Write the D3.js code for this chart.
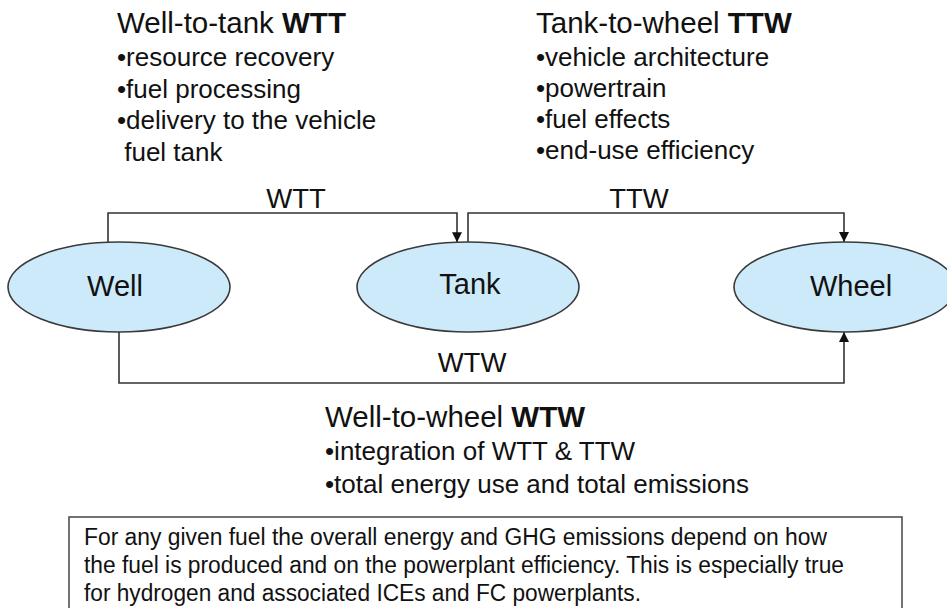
<!DOCTYPE html>
<html lang="en">
<head>
    <meta charset="utf-8">
    <title>Well-to-wheel diagram</title>
    <style>
        body { margin: 0; background: #fff; }
        svg { display: block; font-family: "Liberation Sans", Arial, sans-serif; }
        .narrow { font-family: "Liberation Sans Narrow", "Arial Narrow", "Liberation Sans", sans-serif; }
    </style>
    <script src="https://d3js.org/d3.v7.min.js"></script>
</head>
<body>
<svg></svg>
<script>
    // data
    const nodes = ["Well", "Tank", "Wheel"];
    const links = [
        {name: "WTT", from: "Well", to: "Tank"},
        {name: "TTW", from: "Tank", to: "Wheel"},
        {name: "WTW", from: "Well", to: "Wheel"}
    ];
    const wttTitle = ["Well-to-tank ", "WTT"];
    const wttItems = ["resource recovery", "fuel processing", "delivery to the vehicle", " fuel tank"];
    const ttwTitle = ["Tank-to-wheel ", "TTW"];
    const ttwItems = ["vehicle architecture", "powertrain", "fuel effects", "end-use efficiency"];
    const wtwTitle = ["Well-to-wheel ", "WTW"];
    const wtwItems = ["integration of WTT & TTW", "total energy use and total emissions"];
    const note = [
        "For any given fuel the overall energy and GHG emissions depend on how",
        "the fuel is produced and on the powerplant efficiency. This is especially true",
        "for hydrogen and associated ICEs and FC powerplants."
    ];

    const width = 947;
    const height = 608;

    const svg = d3.select('svg').attr('width', width).attr('height', height);

    // layout
    const x = d3.scaleOrdinal().domain(nodes).range([119, 468, 845]);
    const cy = 287, rx = 111, ry = 45;
    const topY = 213, bottomY = 383;
    const lineColor = "#333";

    svg.append("defs").append("marker")
        .attr("id", "arrow")
        .attr("markerUnits", "userSpaceOnUse")
        .attr("viewBox", "0 0 10 10")
        .attr("refX", 10).attr("refY", 5)
        .attr("markerWidth", 11).attr("markerHeight", 10)
        .attr("orient", "auto")
        .append("path")
        .attr("d", "M0,0 L10,5 L0,10 z")
        .attr("fill", "#111");

    // y on the ellipse edge for a given x offset
    function edge(dx, sign) {
        return cy + sign * ry * Math.sqrt(Math.max(0, 1 - (dx / rx) * (dx / rx)));
    }

    const linkGeom = {
        WTT: {x0: x("Well") - 11, x1: x("Tank") - 11, y: topY, side: -1, lx: 296},
        TTW: {x0: x("Tank"), x1: x("Wheel") - 1, y: topY, side: -1, lx: 639},
        WTW: {x0: x("Well"), x1: x("Wheel") - 1, y: bottomY, side: 1, lx: 472}
    };

    links.forEach(l => {
        const g = linkGeom[l.name];
        const y0 = edge(g.x0 - x(l.from), g.side);
        const y1 = edge(g.x1 - x(l.to), g.side);
        const p = d3.path();
        p.moveTo(g.x0, y0);
        p.lineTo(g.x0, g.y);
        p.lineTo(g.x1, g.y);
        p.lineTo(g.x1, y1);
        svg.append("path")
            .attr("d", p.toString())
            .attr("fill", "none")
            .attr("stroke", lineColor)
            .attr("stroke-width", 1.6)
            .attr("marker-end", "url(#arrow)");
        svg.append("text")
            .attr("x", g.lx)
            .attr("y", g.side < 0 ? g.y - 5 : g.y - 11)
            .attr("text-anchor", "middle")
            .style("font-size", "27.5px")
            .attr("fill", "#111")
            .text(l.name);
    });

    const node = svg.selectAll(".node").data(nodes).enter().append("g").attr("class", "node");
    node.append("ellipse")
        .attr("cx", d => x(d))
        .attr("cy", cy)
        .attr("rx", rx)
        .attr("ry", ry)
        .attr("fill", "#cdeafb")
        .attr("stroke", "#3a3a3a")
        .attr("stroke-width", 1.6);
    node.append("text")
        .attr("x", d => x(d) + (d === "Wheel" ? 6 : d === "Tank" ? 2 : -4))
        .attr("y", d => d === "Tank" ? 294 : 296)
        .attr("text-anchor", "middle")
        .style("font-size", "29px")
        .attr("fill", "#111")
        .text(d => d);

    function block(title, items, bx, by, step) {
        const t = svg.append("text").attr("x", bx).attr("y", by)
            .style("font-size", "29.5px").attr("fill", "#111");
        t.append("tspan").text(title[0]);
        t.append("tspan").style("font-weight", "bold").text(title[1]);
        items.forEach((s, i) => {
            svg.append("text")
                .attr("x", bx)
                .attr("y", by + 33 + i * step)
                .style("font-size", "26px")
                .attr("fill", "#111")
                .attr("xml:space", "preserve")
                .style("white-space", "pre")
                .text(s.startsWith(" ") ? " " + s.trim() : "\u2022" + s);
        });
    }

    block(wttTitle, wttItems, 117, 33, 31.5);
    block(ttwTitle, ttwItems, 536, 33, 31);
    block(wtwTitle, wtwItems, 325, 427, 32.5);

    // note box
    svg.append("rect")
        .attr("x", 69).attr("y", 517)
        .attr("width", 833).attr("height", 120)
        .attr("fill", "#fff")
        .attr("stroke", "#444")
        .attr("stroke-width", 1.5);

    const noteLen = [743, 760, 557];
    svg.selectAll(".note").data(note).enter().append("text")
        .attr("class", "narrow")
        .attr("x", 84)
        .attr("y", (d, i) => 545 + i * 28)
        .attr("textLength", (d, i) => noteLen[i])
        .attr("lengthAdjust", "spacingAndGlyphs")
        .style("font-size", "23px")
        .attr("fill", "#111")
        .text(d => d);
</script>
</body>
</html>
